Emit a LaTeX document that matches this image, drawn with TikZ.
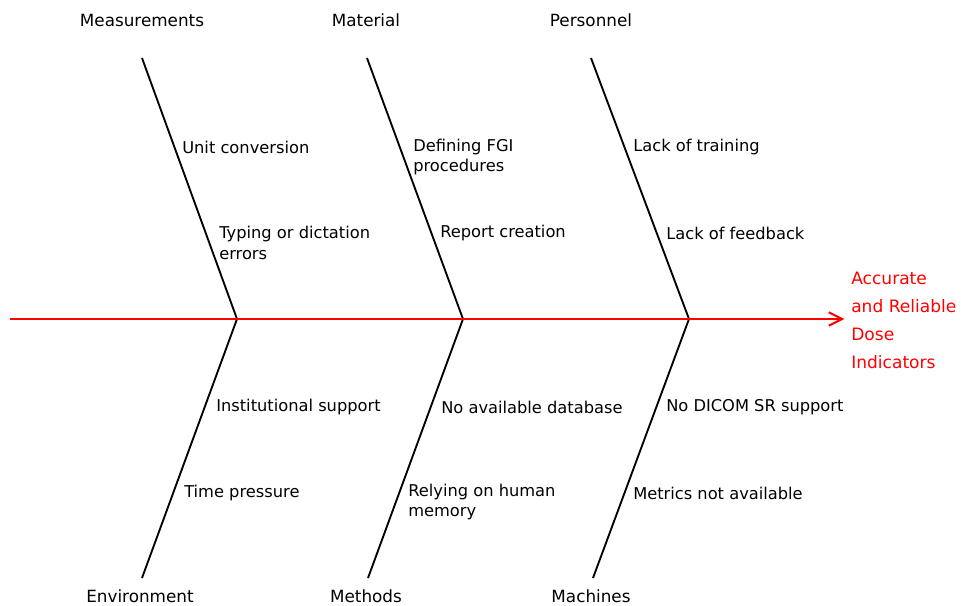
\documentclass[tikz,border=0pt]{standalone}
\usepackage{fontspec}
\setmainfont{DejaVu Sans}
\usetikzlibrary{arrows.meta}
\begin{document}
\begin{tikzpicture}[x=0.75pt,y=-0.75pt,
  bone/.style={line width=1.4pt},
  spine/.style={draw=red, line width=1.5pt, -{Straight Barb[length=10pt,width=10pt,line width=1.5pt]}},
  cat/.style={inner sep=0pt, font=\fontsize{12.6}{15}\selectfont},
  cause/.style={anchor=west, align=left, inner sep=0pt, font=\fontsize{12.2}{15.4}\selectfont}]
  \useasboundingbox (0,0) rectangle (961,606);

  % Kopfpunkte oben, Knoten auf der Achse, Fusspunkte unten
  \coordinate (t1) at (142,58);
  \coordinate (t2) at (367,58);
  \coordinate (t3) at (591,58);
  \coordinate (j1) at (237,319);
  \coordinate (j2) at (463,319);
  \coordinate (j3) at (689,319);
  \coordinate (b1) at (142,578);
  \coordinate (b2) at (368,578);
  \coordinate (b3) at (593,578);

  % Graeten
  \draw[bone] (t1) -- (j1) -- (b1);
  \draw[bone] (t2) -- (j2) -- (b2);
  \draw[bone] (t3) -- (j3) -- (b3);

  % Wirkung rechts
  \node[anchor=west, align=left, inner sep=0pt, text=red,
        font=\fontsize{12.8}{21}\selectfont] (effect) at (851,320)
    {Accurate\\and Reliable\\Dose\\Indicators};

  % Hauptachse
  \coordinate (tail) at (10,319);
  \draw[spine, shorten >=5pt] (tail) -- (tail -| effect.west);

  % Kategorien
  \node[cat] (meas) at (142,20) {Measurements};
  \node[cat] (mat)  at (366,20) {Material};
  \node[cat] (pers) at (591,20) {Personnel};
  \node[cat] (env)  at (140,596) {Environment};
  \node[cat] (meth) at (366,596) {Methods};
  \node[cat] (mach) at (591,596) {Machines};

  % Ursachen oben
  \node[cause] (unit) at (182,147) {Unit conversion};
  \node[cause] (typo) at (219,243) {Typing or dictation\\errors};
  \node[cause] (fgi)  at (413,157) {Defining FGI\\procedures};
  \node[cause] (rep)  at (440,233) {Report creation};
  \node[cause] (train) at (633,147) {Lack of training};
  \node[cause] (feed) at (666,233) {Lack of feedback};

  % Ursachen unten
  \node[cause] (inst) at (216,407) {Institutional support};
  \node[cause] (time) at (184,493) {Time pressure};
  \node[cause] (db)   at (441,407) {No available database};
  \node[cause] (mem)  at (408,502) {Relying on human\\memory};
  \node[cause] (dicom) at (666,407) {No DICOM SR support};
  \node[cause] (metr) at (633,493) {Metrics not available};
\end{tikzpicture}
\end{document}
